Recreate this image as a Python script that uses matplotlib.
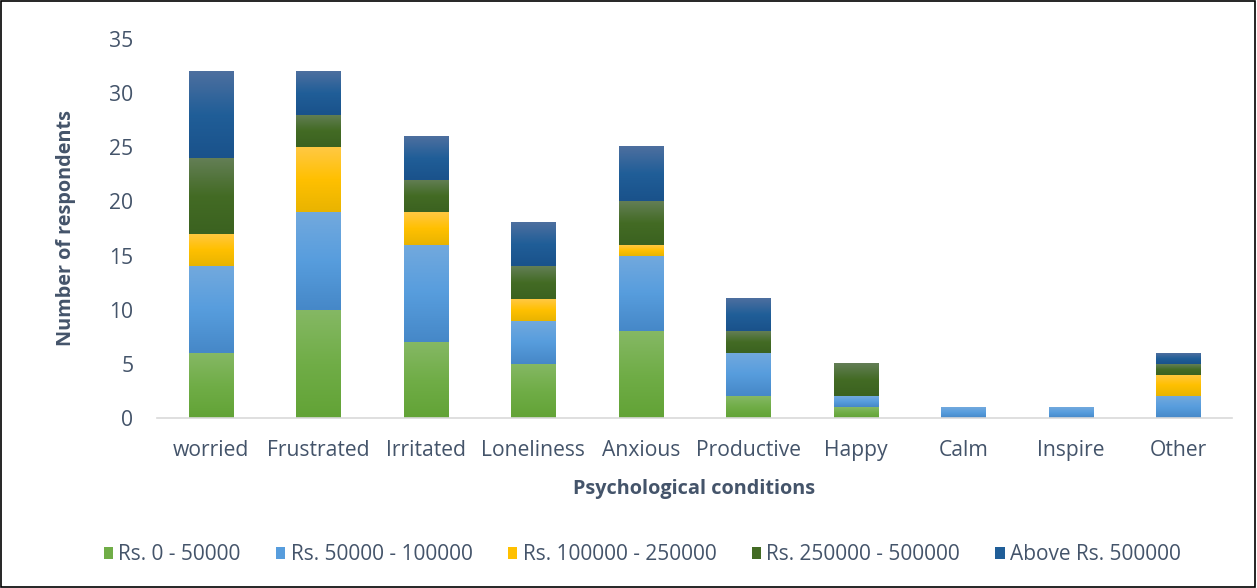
import numpy as np
import matplotlib.pyplot as plt
from matplotlib.colors import LinearSegmentedColormap
from matplotlib.patches import Rectangle

# Survey counts per psychological condition, split by income band
conditions = ['worried', 'Frustrated', 'Irritated', 'Loneliness', 'Anxious',
              'Productive', 'Happy', 'Calm', 'Inspire', 'Other']
income_bands = ['Rs. 0 - 50000', 'Rs. 50000 - 100000', 'Rs. 100000 - 250000',
                'Rs. 250000 - 500000', 'Above Rs. 500000']
rs_0_50k = [6, 10, 7, 5, 8, 2, 1, 0, 0, 0]
rs_50k_100k = [8, 9, 9, 4, 7, 4, 1, 1, 1, 2]
rs_100k_250k = [3, 6, 3, 2, 1, 0, 0, 0, 0, 2]
rs_250k_500k = [7, 3, 3, 3, 4, 2, 3, 0, 0, 1]
above_500k = [8, 4, 4, 4, 5, 3, 0, 0, 0, 1]
series = [rs_0_50k, rs_50k_100k, rs_100k_250k, rs_250k_500k, above_500k]

# top / middle / bottom shades for the Excel-style gradient fill
shades = [
    ['#85b864', '#70ad47', '#62a336'],
    ['#72a9de', '#579ddd', '#4688c8'],
    ['#ffc843', '#ffc000', '#e9b400'],
    ['#637e55', '#436b24', '#3b6220'],
    ['#4d6f9f', '#205e98', '#1a528b'],
]
cmaps = [LinearSegmentedColormap.from_list('g%d' % i, s[::-1]) for i, s in enumerate(shades)]

plt.rcParams['font.family'] = ['Open Sans', 'DejaVu Sans']
text_col = '#44546a'

fig = plt.figure(figsize=(12.57, 5.88), dpi=100)
ax = fig.add_axes([157 / 1257, 1 - 418 / 588, 1075 / 1257, 379 / 588])

x = np.arange(len(conditions))
width = 0.41
bottom = np.zeros(len(conditions))
grad = np.linspace(0, 1, 64).reshape(-1, 1)
for vals, cmap, s, label in zip(series, cmaps, shades, income_bands):
    vals = np.array(vals, dtype=float)
    bars = ax.bar(x, vals, width, bottom=bottom, color=s[1], label=label, linewidth=0)
    for b, v in zip(bars, vals):
        if v <= 0:
            continue
        x0, y0 = b.get_x(), b.get_y()
        ax.imshow(grad, cmap=cmap, aspect='auto', origin='lower', interpolation='bilinear',
                  extent=(x0, x0 + b.get_width(), y0, y0 + b.get_height()), zorder=2)
        b.set_visible(False)
    bottom += vals

ax.set_xlim(-0.5, len(conditions) - 0.5)
ax.set_ylim(0, 35)
ax.set_yticks(range(0, 36, 5))
ax.set_xticks(x)
ax.set_xticklabels(conditions)
ax.tick_params(axis='both', length=0, labelsize=15.2, colors=text_col)
ax.tick_params(axis='x', pad=16)
ax.tick_params(axis='y', pad=17)
for side in ['top', 'right', 'left']:
    ax.spines[side].set_visible(False)
ax.spines['bottom'].set_color('#d9d9d9')
ax.spines['bottom'].set_linewidth(1.2)
ax.spines['bottom'].set_zorder(3)

ax.set_ylabel('Number of respondents', fontsize=14.3, fontweight='bold', color=text_col, labelpad=24)
ax.set_xlabel('Psychological conditions', fontsize=14.3, fontweight='bold', color=text_col, labelpad=13)

handles = [Rectangle((0, 0), 1, 1, facecolor=s[1], edgecolor='none') for s in shades]
fig.legend(handles, income_bands, loc='center', bbox_to_anchor=(0.511, 1 - 555 / 588), ncol=5,
           frameon=False, fontsize=15, labelcolor=text_col, handlelength=0.45, handleheight=0.45,
           handletextpad=0.25, columnspacing=1.7)

# thin black frame round the whole chart
fig.add_artist(Rectangle((0.0005, 0.001), 0.998, 0.997, transform=fig.transFigure,
                         fill=False, edgecolor='black', linewidth=1.2))

fig.savefig('out.png', dpi=100)
